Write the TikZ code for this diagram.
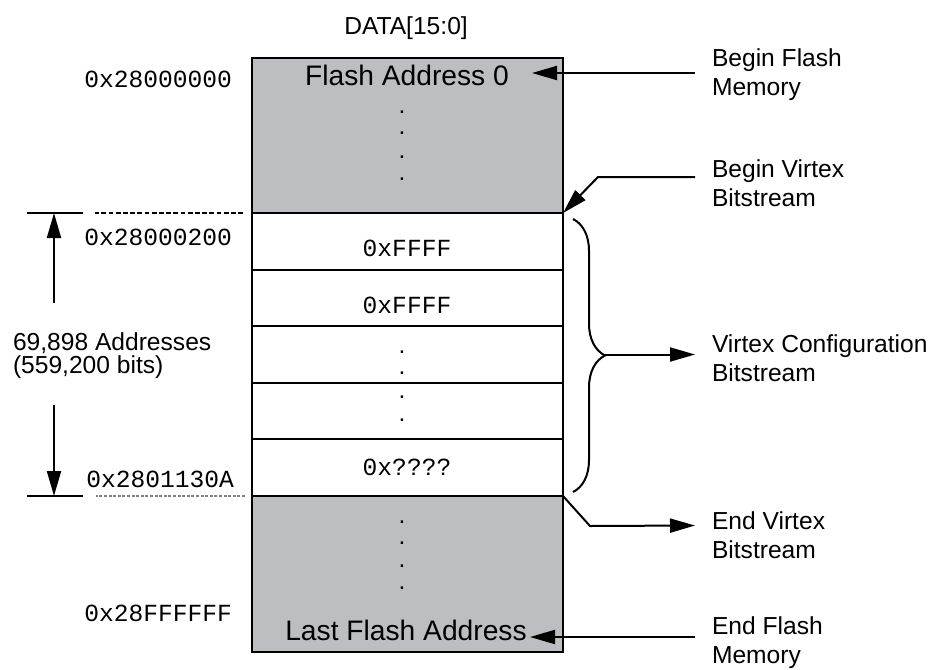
\documentclass[tikz,border=0pt]{standalone}
\usepackage{fontspec}
\setmainfont{Liberation Sans}
\setmonofont{Liberation Mono}
\usetikzlibrary{arrows.meta,positioning,decorations.pathreplacing}
\definecolor{flashgray}{RGB}{189,190,193}
\tikzset{
  memcell/.style={draw, line width=1pt, fill=white, minimum width=155.5pt,
    minimum height=28.3pt, outer sep=0pt, inner sep=0pt},
  flashblk/.style={memcell, fill=flashgray, minimum height=77.5pt},
  txt/.style={font=\fontsize{12.3}{14.5}\selectfont, inner sep=0pt},
  bigtxt/.style={font=\fontsize{14.1}{16}\selectfont, inner sep=0pt},
  hexval/.style={font=\ttfamily\fontsize{12.3}{14.5}\selectfont, inner sep=0pt},
  note/.style={txt, align=left, anchor=west, inner xsep=8pt}
}
\begin{document}
\begin{tikzpicture}[x=0.5pt,y=-0.5pt,>={Triangle[length=12.5pt,width=7pt]},line width=1pt]
\useasboundingbox (0,0) rectangle (935,669);
% the memory column
\node[flashblk, anchor=north west] (top) at (252,58) {};
\node[memcell, below=0pt of top] (c1) {};
\node[memcell, below=0pt of c1] (c2) {};
\node[memcell, below=0pt of c2] (c3) {};
\node[memcell, below=0pt of c3] (c4) {};
\node[memcell, below=0pt of c4] (c5) {};
\node[flashblk, below=0pt of c5, minimum height=78pt] (bot) {};
\draw[line width=1.4pt] (top.north west) rectangle (bot.south east);
\draw[line width=1.4pt] (c1.north west) -- (c1.north east) (c5.south west) -- (c5.south east);

\node[txt] (bus) at (406,28) {DATA[15:0]};
\node[bigtxt] (fa0) at (407,75.5) {Flash Address 0};
\node[bigtxt] (lfa) at (406,630) {Last Flash Address};
\node[hexval] (v1) at (407,248) {0xFFFF};
\node[hexval] (v2) at (407,305) {0xFFFF};
\node[hexval] (v5) at (407,467) {0x????};
\foreach \y [count=\k] in {112,133,157,179,352,373,397,420,522,543,566,588}
  \node[txt] (dot\k) at (402,\y) {.};

% addresses on the left
\node[hexval, anchor=east] (a0) at (233,79) {0x28000000};
\node[hexval, anchor=east] (a1) at (233,237) {0x28000200};
\node[hexval, anchor=east] (a2) at (235,479) {0x2801130A};
\node[hexval, anchor=east] (a3) at (233,613) {0x28FFFFFF};
\node[txt, align=left, anchor=west, font=\fontsize{12.3}{9.8}\selectfont] (span) at (12,356)
  {69,898 Addresses\\(559,200 bits)};

\coordinate (ltop) at ([xshift=-99pt]top.south west);
\coordinate (lbot) at ([xshift=-99pt]bot.north west);
\draw (ltop) +(-13.5pt,0) -- +(14.5pt,0);
\draw (lbot) +(-13.5pt,0) -- +(14.5pt,0);
\draw[line width=0.8pt, dash pattern=on 2.4pt off 1.2pt] ([xshift=-4.5pt]top.south west) -- ([xshift=-78.5pt]top.south west);
\draw[gray, line width=0.6pt, dash pattern=on 1.5pt off 0.8pt] ([xshift=-3.5pt]bot.north west) -- ([xshift=-78pt]bot.north west);
\draw[->] ([yshift=-45pt]ltop) -- (ltop);
\draw[->] ([yshift=45.5pt]lbot) -- (lbot);

% notes on the right
\node[note] (bfm) at (695,75) {Begin Flash\\Memory};
\node[note] (bvb) at (695,183) {Begin Virtex\\Bitstream};
\node[note] (vcb) at (695,358) {Virtex Configuration\\Bitstream};
\node[note] (evb) at (695,535.5) {End Virtex\\Bitstream};
\node[note] (efm) at (695,643) {End Flash\\Memory};

\draw[->] ([yshift=1pt]bfm.west) -- ++(-163,0);
\draw[->] ([yshift=3pt]bvb.west) -- ++(-97,0) -- (top.south east);
\draw[decorate, decoration={brace, amplitude=16pt}]
  ([xshift=5pt,yshift=-3pt]c1.north east) -- ([xshift=5pt,yshift=2pt]c5.south east);
\coordinate (btip) at ([xshift=21pt]c3.east);
\draw[->] (btip) -- (btip -| vcb.west);
\draw[->] (bot.north east) -- ++(27,30) -- ([yshift=5pt]evb.west);
\draw[->] ([yshift=3pt]efm.west) -- ++(-165,0);

\end{tikzpicture}
\end{document}
